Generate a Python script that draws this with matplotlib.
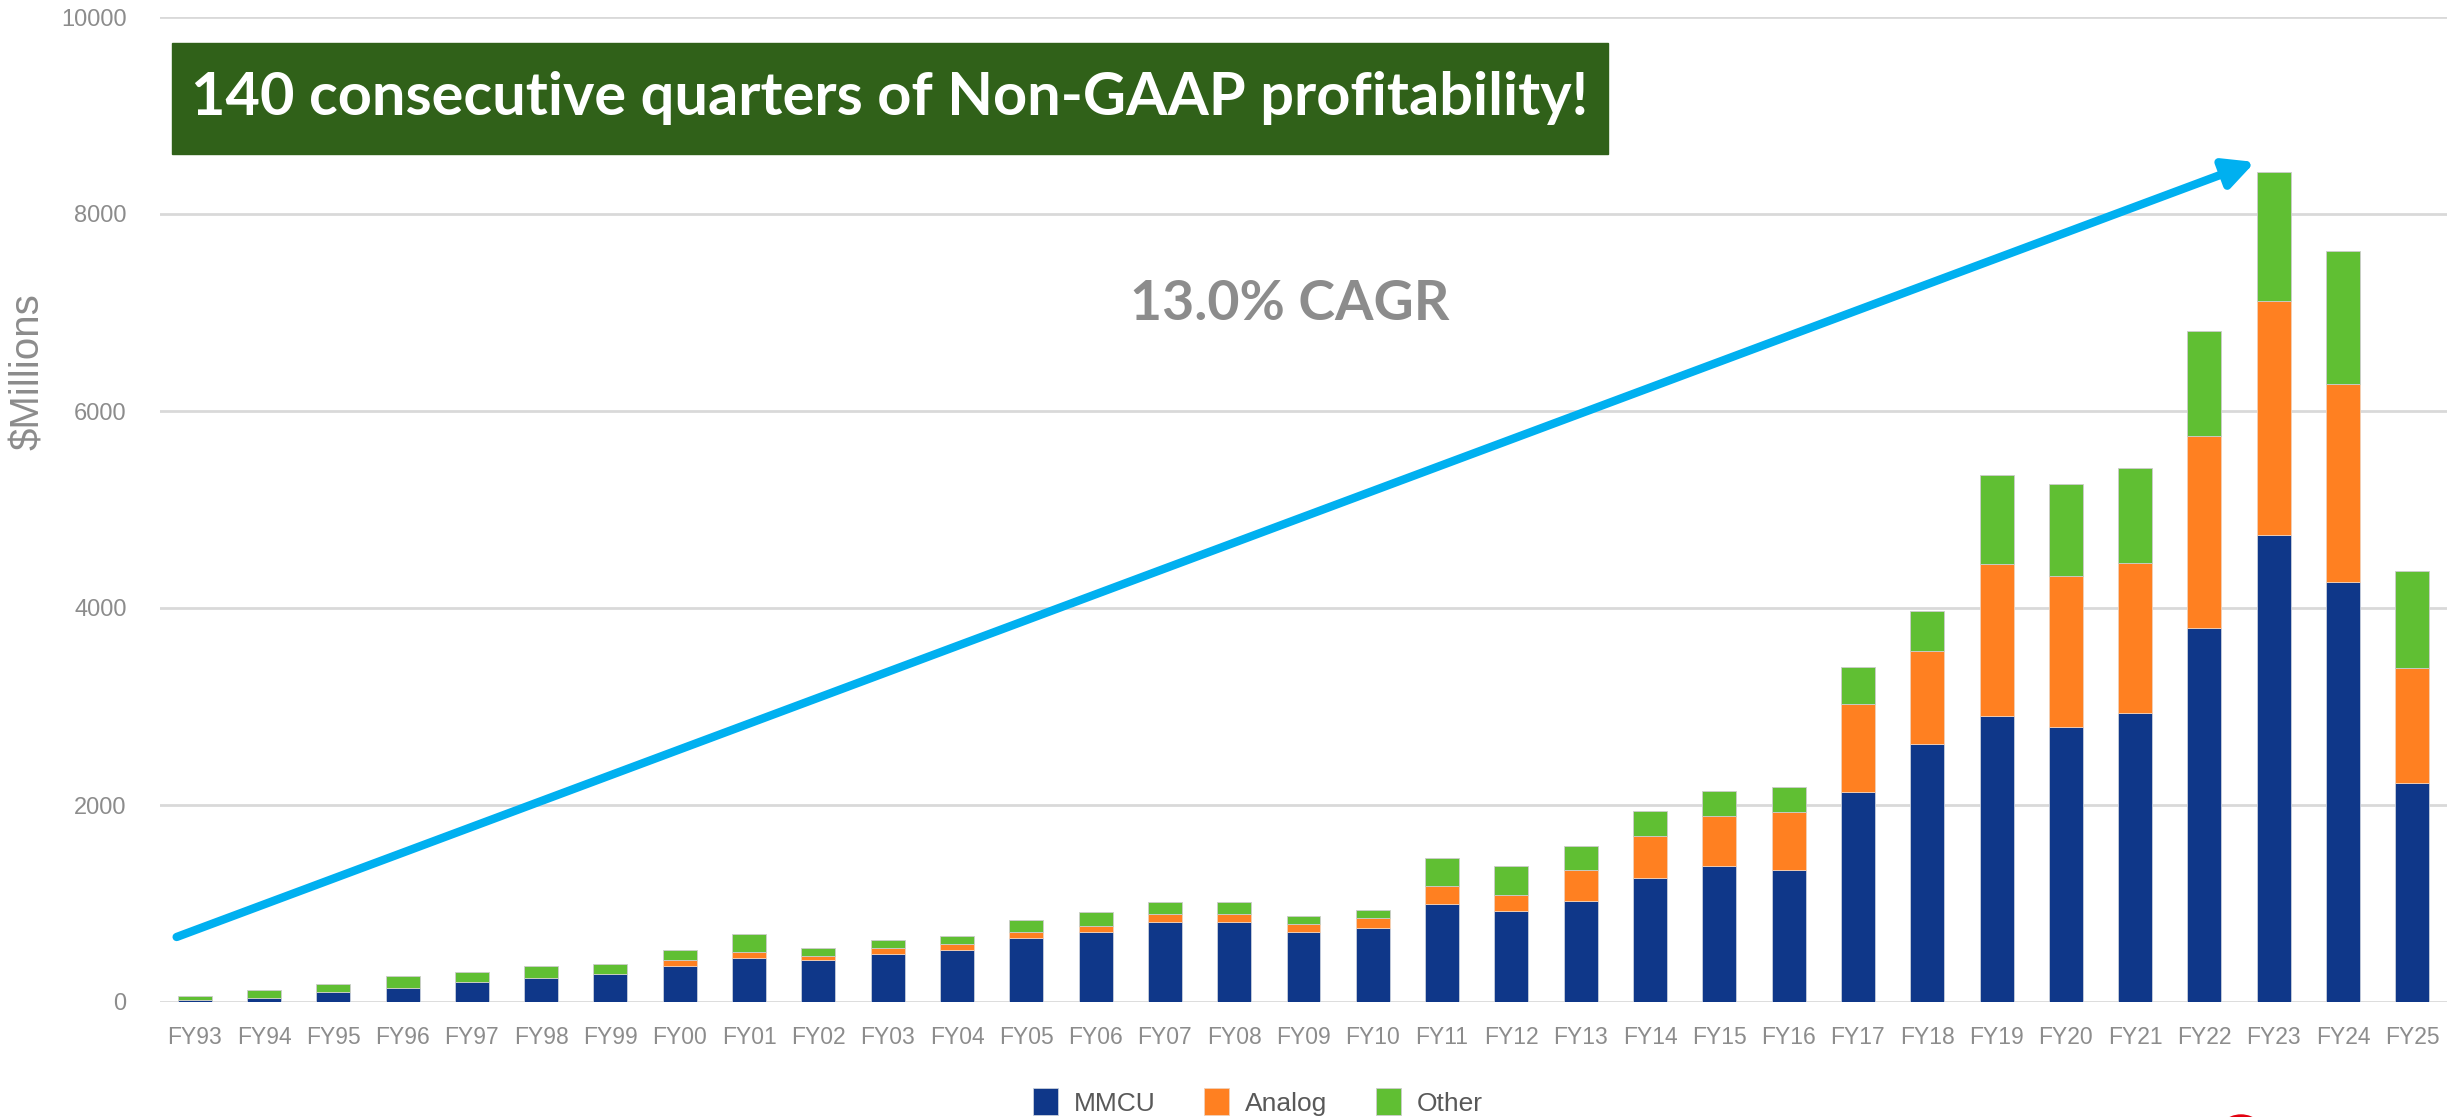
import matplotlib
matplotlib.use("Agg")
import matplotlib.pyplot as plt
from matplotlib.patches import Rectangle, Ellipse
import numpy as np

years = ['FY93', 'FY94', 'FY95', 'FY96', 'FY97', 'FY98', 'FY99', 'FY00', 'FY01',
         'FY02', 'FY03', 'FY04', 'FY05', 'FY06', 'FY07', 'FY08', 'FY09', 'FY10',
         'FY11', 'FY12', 'FY13', 'FY14', 'FY15', 'FY16', 'FY17', 'FY18', 'FY19',
         'FY20', 'FY21', 'FY22', 'FY23', 'FY24', 'FY25']

mmcu = [20, 44, 105, 145, 206, 247, 287, 368, 450, 429, 490, 531, 652, 713, 815,
        815, 713, 754, 997, 927, 1029, 1255, 1378, 1337, 2130, 2620, 2905, 2795,
        2937, 3792, 4745, 4259, 2223]
analog = [0, 0, 0, 0, 0, 0, 0, 61, 57, 41, 61, 61, 61, 61, 81, 81, 81, 101, 183,
          164, 308, 431, 513, 595, 900, 940, 1546, 1527, 1523, 1955, 2369, 2014,
          1163]
other = [44, 81, 81, 122, 102, 121, 102, 102, 186, 81, 81, 81, 122, 142, 121, 121,
         81, 81, 287, 291, 250, 250, 250, 250, 373, 411, 899, 935, 960, 1063, 1314,
         1356, 990]

series_names = ['MMCU', 'Analog', 'Other']
title_text = '140 consecutive quarters of Non-GAAP profitability!'
cagr_text = '13.0% CAGR'
y_ticks = [0, 2000, 4000, 6000, 8000, 10000]

# trend arrow ends (bar index, $M)
arrow_start = (-0.26, 660)
arrow_end = (29.73, 8528)

c_mmcu = '#0f3789'
c_analog = '#ff8021'
c_other = '#60bf33'
gray = '#8c8c8c'

W, H = 2458, 1117
fig = plt.figure(figsize=(W / 100, H / 100), dpi=100)
ax = fig.add_axes([160 / W, 1 - 1002 / H, (2447 - 160) / W, (1002 - 17) / H])

x = np.arange(len(years))
mmcu = np.array(mmcu)
analog = np.array(analog)
other = np.array(other)

bw = 0.49
ax.bar(x, mmcu, bw, color=c_mmcu, label=series_names[0],
       edgecolor='#c8cfdc', linewidth=0.6, zorder=3)
ax.bar(x, analog, bw, bottom=mmcu, color=c_analog, label=series_names[1],
       edgecolor='#f0d0b8', linewidth=0.6, zorder=3)
ax.bar(x, other, bw, bottom=mmcu + analog, color=c_other, label=series_names[2],
       edgecolor='#cccccc', linewidth=0.6, zorder=3)

ax.set_xlim(-0.5, 32.5)
ax.set_ylim(0, 10000)
ax.set_yticks(y_ticks)
ax.set_xticks(x)
ax.set_xticklabels(years)
ax.yaxis.grid(True, color='#d9d9d9', linewidth=2, zorder=0)
ax.set_axisbelow(True)
for s in ax.spines.values():
    s.set_visible(False)
ax.tick_params(axis='both', length=0, colors=gray)
ax.tick_params(axis='y', pad=24, labelsize=17)
ax.tick_params(axis='x', pad=17, labelsize=16.5)
for lab in ax.get_xticklabels() + ax.get_yticklabels():
    lab.set_family('Liberation Sans')

fig.text(28 / W, 1 - 372 / H, '$Millions', rotation=90, ha='center', va='center',
         fontsize=29, color=gray, family='Liberation Sans')

# CAGR arrow
ax.annotate('', xy=arrow_end, xytext=arrow_start,
            arrowprops=dict(arrowstyle='-|>,head_length=0.9,head_width=0.45',
                            color='#00b0f0', lw=6, mutation_scale=20,
                            shrinkA=0, shrinkB=0), zorder=4)

# green banner
fig.patches.append(Rectangle((172 / W, 1 - 154 / H), (1608 - 172) / W, (154 - 43) / H,
                             transform=fig.transFigure, color='#306119', zorder=5))
t1 = fig.text(890 / W, 1 - 115 / H, title_text, ha='center', va='baseline',
              color='white', fontsize=40, fontweight='bold', family='Lato', zorder=6)
t2 = fig.text(1290 / W, 1 - 320 / H, cagr_text, ha='center', va='baseline',
              color=gray, fontsize=40, fontweight='bold', family='Lato', zorder=6)

# fit text widths to the reference
r = fig.canvas.get_renderer()
for t, target in [(t1, 1397), (t2, 319)]:
    w = t.get_window_extent(r).width
    t.set_fontsize(t.get_fontsize() * target / w)

leg = fig.legend(loc='center', bbox_to_anchor=(1258 / W, 1 - 1102 / H), ncol=3,
                 frameon=False, handlelength=0.95, handleheight=1.2,
                 handletextpad=0.6, columnspacing=1.85,
                 prop={'family': 'Liberation Sans', 'size': 19})
for txt in leg.get_texts():
    txt.set_color('#595959')

# red logo fragment at bottom edge
fig.patches.append(Ellipse((2241 / W, 1 - 1141 / H), 52 / W, 52 / H,
                           transform=fig.transFigure, color='#e3000f', zorder=5))

fig.savefig('out.png', dpi=100)
